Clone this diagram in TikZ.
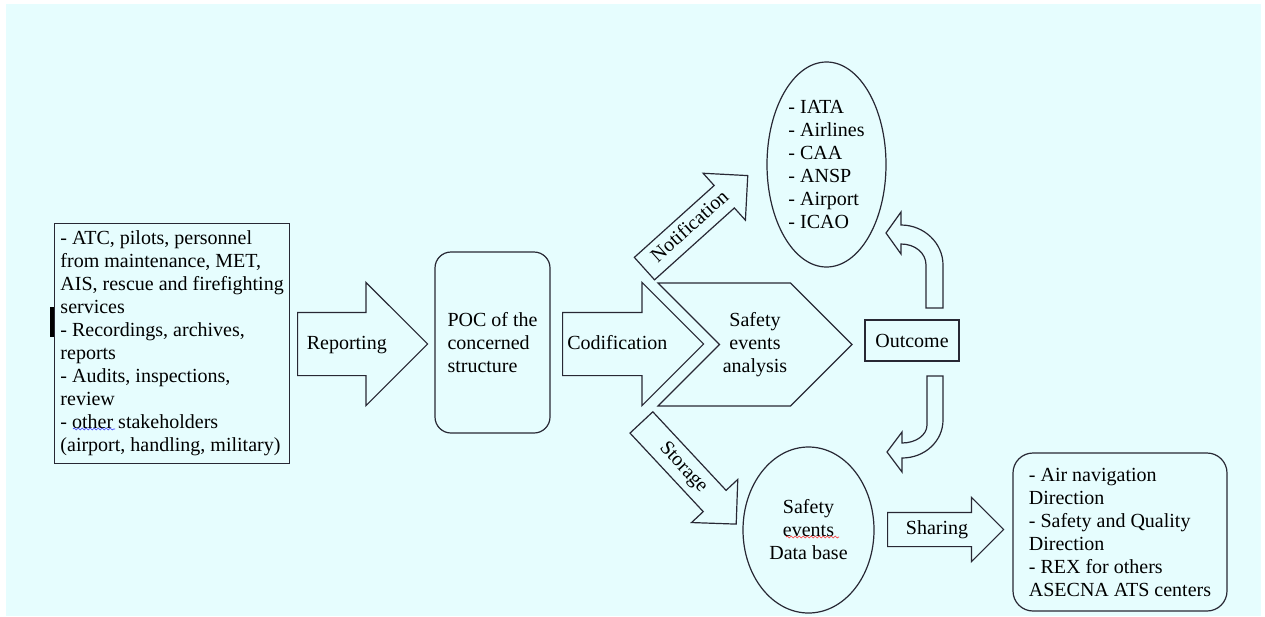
\documentclass[tikz,border=0pt]{standalone}
\usepackage{fontspec}
\setmainfont{Liberation Serif}
\usetikzlibrary{shapes.arrows,shapes.geometric,shapes.symbols,decorations.pathmorphing}

\definecolor{sheet}{RGB}{230,253,254}
\definecolor{ink}{RGB}{40,40,52}

\tikzset{
  box/.style={draw=ink, line width=1.2pt, inner sep=0pt, align=left},
  roundbox/.style={box, rounded corners=16pt},
  oval/.style={ellipse, draw=ink, line width=1.2pt, inner sep=0pt, align=left},
  blockarrow/.style={single arrow, draw=ink, line width=1.2pt, anchor=tail,
    inner xsep=2pt, text height=14pt, text depth=4pt},
  spellmark/.style={decorate, decoration={snake, amplitude=1pt, segment length=4pt},
    line width=0.6pt}
}

\begin{document}
\begin{tikzpicture}[x=1pt, y=-1pt, font=\fontsize{20}{23}\selectfont]
        \useasboundingbox (0,0) rectangle (1265,616);
        \fill[white] (0,0) rectangle (1265,616);
        \fill[sheet] (6,4) rectangle (1261,616);

        % where the reports come from
        \node[box, anchor=north west, minimum width=235pt, minimum height=240pt] (sources) at (54,223)
            {- ATC, pilots, personnel\\from maintenance, MET,\\AIS, rescue and firefighting\\services\\- Recordings, archives,\\reports\\- Audits, inspections,\\review\\- other stakeholders\\(airport, handling, military)};
        \fill[black] (50,307) rectangle (54,337);
        \draw[spellmark, blue!75] (73,429) -- (115,429);

        \node[blockarrow, inner ysep=22pt, single arrow head extend=30pt, minimum height=130pt] (reporting) at (297,344) {Reporting};
        \node[roundbox, minimum width=115pt, minimum height=181pt] (poc) at (492.5,342.5) {POC of the\\concerned\\structure};
        \node[blockarrow, inner ysep=22pt, single arrow head extend=30pt, minimum height=141pt] (codification) at (562,344) {Codification};
        \node[signal, signal from=west, signal to=east, draw=ink, line width=1.2pt, align=center,
            minimum width=190pt, minimum height=123pt] (analysis) at (755,344.5) {Safety\\events\\analysis};

        % the two branches leaving the POC
        \node[blockarrow, rotate=42, inner ysep=5.5pt, single arrow head extend=16.5pt, minimum height=139pt] (notification) at (644,269) {Notification};
        \node[blockarrow, rotate=-47, inner ysep=6pt, single arrow head extend=16pt, minimum height=139pt] (storage) at (641,422) {Storage};

        \node[oval, minimum width=119pt, minimum height=205pt] (stakeholders) at (826.5,164.5) {- IATA\\- Airlines\\- CAA\\- ANSP\\- Airport\\- ICAO};
        \node[box, align=center, minimum width=94pt, minimum height=41pt] (outcome) at (912,340.5) {Outcome};
        \node[oval, align=center, minimum width=131pt, minimum height=166pt] (database) at (808.5,530) {Safety\\events\\Data base};
        \draw[spellmark, red!80] (786,537) -- (839,537);

        % outcome goes back up and down
        \draw[draw=ink, line width=1.2pt] (926,308) -- (943,308) -- (943,265) .. controls (943,243) and (924,225) .. (901,225)
            -- (901,212) -- (886,233) -- (901,254) -- (901,244) .. controls (915,244) and (926,253) .. (926,265) -- cycle;
        \draw[draw=ink, line width=1.2pt] (927,376) -- (943,376) -- (943,420) .. controls (943,441) and (925,458) .. (902,458)
            -- (902,472) -- (887,452) -- (902,432) -- (902,443) .. controls (916,443) and (927,435) .. (927,425) -- cycle;

        \node[blockarrow, inner ysep=7.5pt, single arrow head extend=15pt, minimum height=116pt] (sharing) at (887,529.5) {Sharing};
        \node[roundbox, rounded corners=20pt, minimum width=214pt, minimum height=158pt] (receivers) at (1120,532)
            {- Air navigation\\Direction\\- Safety and Quality\\Direction\\- REX for others\\ASECNA ATS centers};
\end{tikzpicture}
\end{document}
